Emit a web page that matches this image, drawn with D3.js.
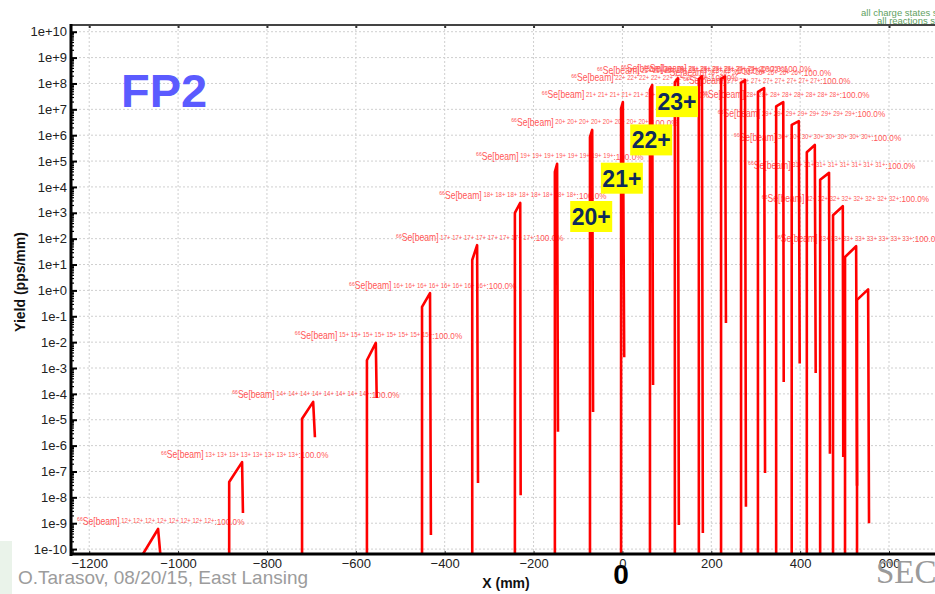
<!DOCTYPE html>
<html>
<head>
<meta charset="utf-8">
<script src="https://cdn.jsdelivr.net/npm/d3@7/dist/d3.min.js"></script>
<style>
  body { margin: 0; background: #fff; }
  svg { display: block; font-family: "Liberation Sans", Arial, sans-serif; }
</style>
</head>
<body>
<svg id="chart" width="935" height="594"></svg>
<script>
// Charge-state distributions of 66Se beam at FP2 (position in mm, yield in pps/mm)
const chargeStates = [12, 13, 14, 15, 16, 17, 18, 19, 20, 21, 22, 23, 24, 25, 26, 27, 28, 29, 30, 31, 32, 33, 34];
// x where each distribution starts, reaches its maximum, and ends
const xStart = [-1079, -885, -721, -575, -451, -338, -242, -152, -73, -3, 62, 118, 172, 222, 267, 305, 346, 381, 415, 445, 474, 501, 528];
const xMax   = [-1045, -856, -696, -555, -433, -327, -230, -147, -68, 1, 67, 125, 179, 231, 276, 319, 362, 397, 433, 465, 496, 526, 553];
const xEnd   = [-1040, -854, -692, -553, -431, -325, -229, -145, -66, 4, 69, 127, 181, 233, 278, 321, 363, 399, 435, 467, 497, 528, 555];
// yields: at the leading edge, at the maximum, at the trailing edge (null = below axis)
const yEdge  = [null, 3.9e-8, 1.1e-5, 2.0e-3, 0.23, 15, 1000, 3.8e4, 8.5e5, 1.1e7, 5.6e7, 1.1e8, 1.5e8, 1.5e8, 1.05e8, 4.7e7, 1.3e7, 2.5e6, 2.2e5, 1.9e4, 810, 19.5, 0.43];
const yMax   = [6.0e-10, 2.3e-7, 4.9e-5, 9.3e-3, 0.79, 56, 2400, 7.8e4, 1.6e6, 1.9e7, 8.7e7, 1.6e8, 1.9e8, 1.9e8, 1.35e8, 6.6e7, 1.9e7, 3.5e6, 4.2e5, 3.5e4, 1800, 51, 1.1];
const yTail  = [null, 2.5e-9, 2.1e-6, 6.9e-5, 3.5e-10, 3.6e-8, 1.2e-8, 3.4e-6, 2.0e-5, 2.6e-3, 2.2e-4, 8.5e-10, 4.2e-10, 0.055, 4.3e-9, 8.7e-8, 2.9e-4, 1.5e-3, 6.4e-4, 4.8e-7, 3.6e-7, 2.8e-8, 1.0e-9];
// charge states carrying a reaction label
const labelledStates = [12, 13, 14, 15, 16, 17, 18, 19, 20, 21, 22, 23, 24, 25, 26, 27, 28, 29, 30, 31, 32, 33];
const labelFraction = "100.0%";
// charge states marked with a yellow badge
const badgeStates = [20, 21, 22, 23];
// axis ticks
const xTicks = [-1200, -1000, -800, -600, -400, -200, 0, 200, 400, 600];
const yExponents = d3.range(-10, 11);

const svg = d3.select("#chart");
const L = 71, R = 945, T = 25, B = 554;

const x = d3.scaleLinear().domain([-1241, 726]).range([L, R]);
const y = d3.scaleLog().domain([Math.pow(10, -10.19), Math.pow(10, 10.26)]).range([B, T]);
const floorY = y.range()[0];
const yv = v => (v == null ? floorY : y(v));

svg.append("defs").append("clipPath").attr("id", "plotClip")
  .append("rect").attr("x", L).attr("y", T).attr("width", R - L).attr("height", B - T);

// grid
const grid = svg.append("g").attr("stroke", "#cfcfcf").attr("stroke-width", 1).attr("stroke-dasharray", "2,2");
yExponents.forEach(e => {
  grid.append("line").attr("x1", L).attr("x2", R).attr("y1", y(Math.pow(10, e))).attr("y2", y(Math.pow(10, e)));
});
xTicks.forEach(t => {
  grid.append("line").attr("x1", x(t)).attr("x2", x(t)).attr("y1", T).attr("y2", B);
});

// reaction labels (narrow lettering)
const labels = svg.append("g").attr("fill", "#ff5757");
labelledStates.forEach(q => {
  const i = chargeStates.indexOf(q);
  const t = labels.append("text")
    .attr("transform", `translate(${x(xMax[i]) - 81},${y(yMax[i]) - 4}) scale(0.86,1)`)
    .attr("font-size", 10);
  t.append("tspan").attr("font-size", 6).attr("dy", -3.5).text("66");
  t.append("tspan").attr("dy", 3.5).text("Se[beam]");
  t.append("tspan").attr("font-size", 7).attr("dy", -1.5).text(" " + d3.range(8).map(() => q + "+").join(" "));
  t.append("tspan").attr("font-size", 9.5).attr("dy", 1.5).text(":" + labelFraction);
});

// distributions
const line = d3.line();
const peaks = svg.append("g").attr("clip-path", "url(#plotClip)");
chargeStates.forEach((q, i) => {
  const pts = [
    [x(xStart[i]), floorY],
    [x(xStart[i]), yv(yEdge[i])],
    [x(xMax[i]), y(yMax[i])],
    [x(xEnd[i]), yv(yTail[i])]
  ];
  peaks.append("path")
    .attr("d", line(pts))
    .attr("fill", "none")
    .attr("stroke", "#ff0000")
    .attr("stroke-width", 2.6)
    .attr("stroke-linejoin", "round");
});

// badges
badgeStates.forEach((q, k) => {
  const i = chargeStates.indexOf(q);
  const cx = x(xMax[i]) - 1;
  const top = 201 - k * 38.3;
  const g = svg.append("g");
  g.append("rect").attr("x", cx - 21).attr("y", top).attr("width", 42).attr("height", 31).attr("fill", "#ffff00");
  g.append("text").attr("x", cx).attr("y", top + 24).attr("text-anchor", "middle")
    .attr("font-size", 23).attr("font-weight", "bold").attr("fill", "#0e2a5c").text(q + "+");
});

// axes
const fmtExp = v => {
  const e = Math.round(Math.log10(v));
  return e >= 0 ? "1e+" + e : "1e" + e;
};
const yMajor = yExponents.map(e => Math.pow(10, e));
const yMinor = [];
for (let e = -11; e <= 10; e++) for (let m = 2; m <= 9; m++) {
  const v = m * Math.pow(10, e);
  if (v >= y.domain()[0] && v <= y.domain()[1]) yMinor.push(v);
}

const yAxis = svg.append("g").attr("transform", `translate(${L},0)`)
  .call(d3.axisLeft(y).tickValues(yMajor).tickFormat(fmtExp).tickSizeInner(-6).tickSizeOuter(0).tickPadding(4));
yAxis.select(".domain").remove();
yAxis.selectAll(".tick line").attr("stroke", "#000").attr("stroke-width", 2);
yAxis.selectAll("text").attr("font-size", 13).attr("fill", "#222");

const yMinorAxis = svg.append("g").attr("transform", `translate(${L},0)`)
  .call(d3.axisLeft(y).tickValues(yMinor).tickFormat("").tickSizeInner(-3).tickSizeOuter(0));
yMinorAxis.select(".domain").remove();
yMinorAxis.selectAll(".tick line").attr("stroke", "#000").attr("stroke-width", 1.2);

const xAxis = svg.append("g").attr("transform", `translate(0,${B})`)
  .call(d3.axisBottom(x).tickValues(xTicks).tickFormat(d3.format("d")).tickSizeInner(-3).tickSizeOuter(0).tickPadding(5));
xAxis.select(".domain").remove();
xAxis.selectAll(".tick line").attr("stroke", "#333");
xAxis.selectAll("text").attr("font-size", 13).attr("fill", "#222");

const xTop = svg.append("g").attr("transform", `translate(0,${T})`)
  .call(d3.axisTop(x).tickValues(xTicks).tickFormat("").tickSizeInner(-3).tickSizeOuter(0));
xTop.select(".domain").remove();
xTop.selectAll(".tick line").attr("stroke", "#333").attr("stroke-width", 2);

// frame
svg.append("line").attr("x1", L).attr("x2", 935).attr("y1", T).attr("y2", T).attr("stroke", "#444").attr("stroke-width", 2);
svg.append("line").attr("x1", L).attr("x2", L).attr("y1", T - 1).attr("y2", B + 2).attr("stroke", "#000").attr("stroke-width", 3);
svg.append("line").attr("x1", L - 1).attr("x2", 935).attr("y1", B).attr("y2", B).attr("stroke", "#000").attr("stroke-width", 3);

// axis titles
svg.append("text").attr("x", 506).attr("y", 588).attr("text-anchor", "middle")
  .attr("font-size", 14).attr("font-weight", "bold").attr("fill", "#111").text("X (mm)");
svg.append("text").attr("transform", "translate(25,282) rotate(-90)").attr("text-anchor", "middle")
  .attr("font-size", 14).attr("font-weight", "bold").attr("fill", "#111").text("Yield (pps/mm)");

// headline and notes
svg.append("text").attr("x", 121).attr("y", 107).attr("font-size", 47).attr("font-weight", "bold")
  .attr("fill", "#5b5bff").text("FP2");
svg.append("text").attr("x", 861).attr("y", 16).attr("font-size", 9.5).attr("fill", "#5f9f5f").text("all charge states separated");
svg.append("text").attr("x", 877).attr("y", 24).attr("font-size", 9.5).attr("fill", "#5f9f5f").text("all reactions separated");

// footer
svg.append("rect").attr("x", 0).attr("y", 541).attr("width", 12).attr("height", 53).attr("fill", "#eaf3ea");
svg.append("text").attr("x", 18).attr("y", 584).attr("font-size", 19).attr("fill", "#9c9c9c")
  .text("O.Tarasov, 08/20/15, East Lansing");
svg.append("text").attr("x", 621).attr("y", 584).attr("text-anchor", "middle").attr("font-size", 28)
  .attr("font-weight", "bold").attr("fill", "#000").text("0");
svg.append("text").attr("x", 876).attr("y", 583).attr("font-size", 33)
  .attr("font-family", "'Liberation Serif', 'Times New Roman', serif").attr("fill", "#9a9a9a").text("SEC");
</script>
</body>
</html>
